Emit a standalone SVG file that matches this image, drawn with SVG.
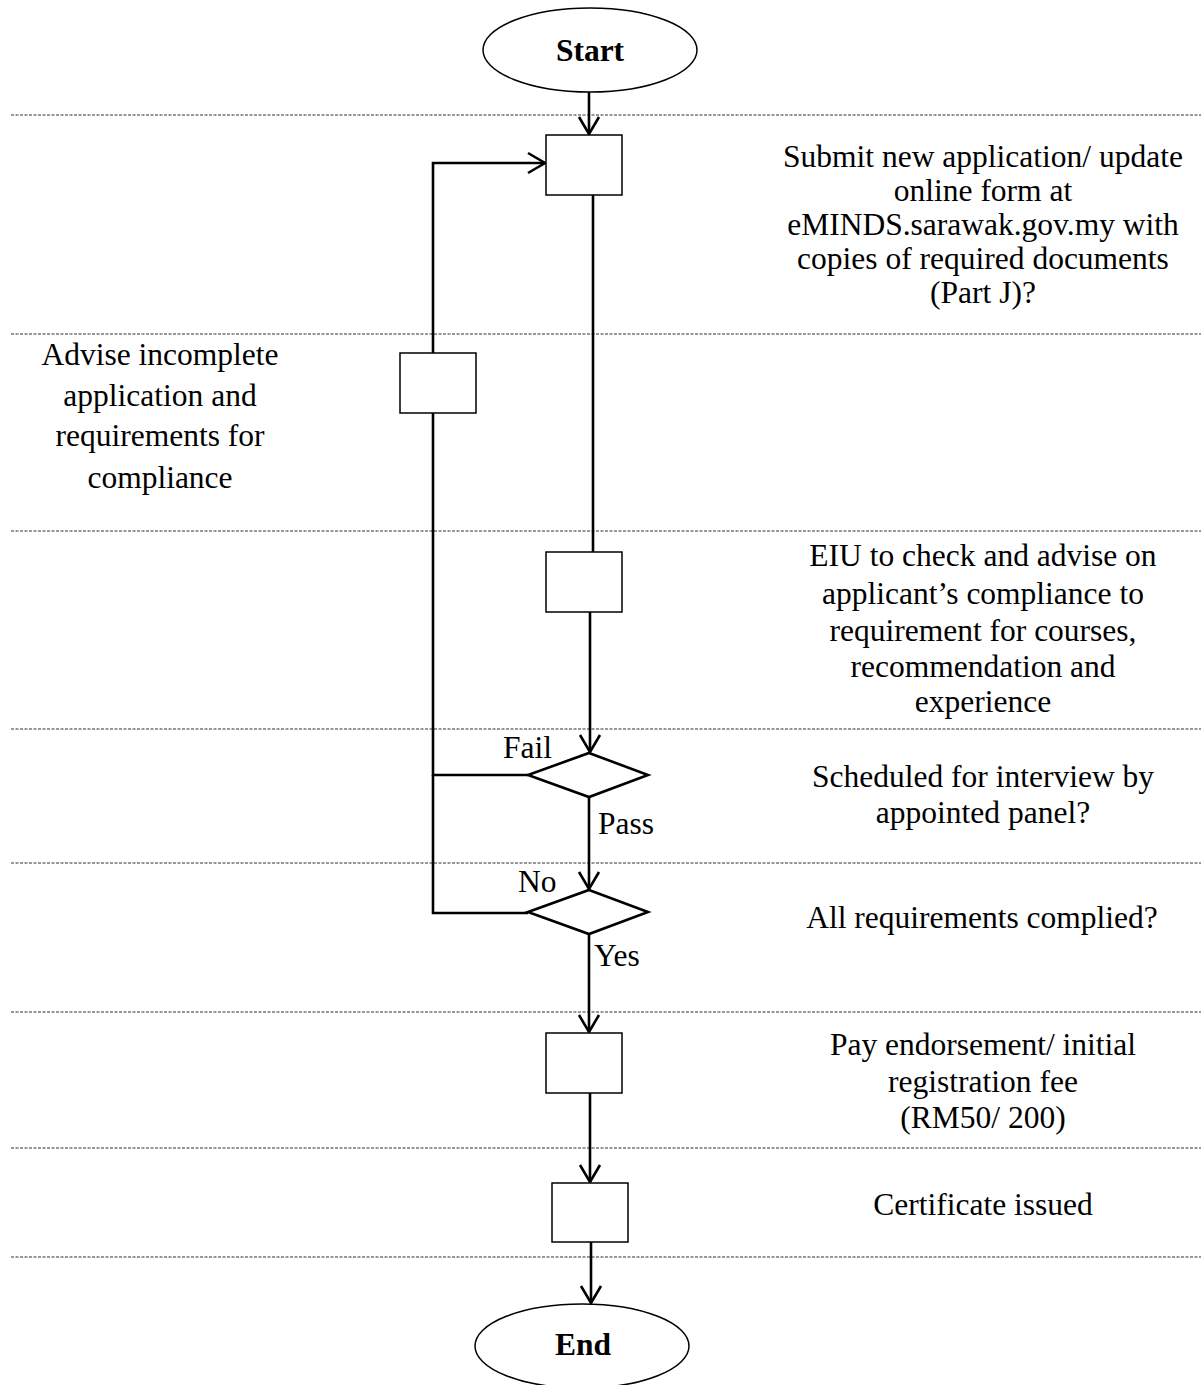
<svg xmlns="http://www.w3.org/2000/svg" width="1201" height="1385" viewBox="0 0 1201 1385">
<style>
.dash{stroke:#333;stroke-width:1.2;stroke-dasharray:3 1.5;fill:none}
.conn{stroke:#000;stroke-width:2.6;fill:none}
.box{fill:#fff;stroke:#000;stroke-width:1.5}
.dia{fill:#fff;stroke:#000;stroke-width:2.6}
.ell{fill:#fff;stroke:#000;stroke-width:1.5}
text{font-family:"Liberation Serif","Times New Roman",serif;font-size:31.5px;fill:#000}
.c{text-anchor:middle}
.b{font-weight:bold}
</style>
<defs>
<marker id="arr" viewBox="-20 -13 23 26" markerWidth="23" markerHeight="26" refX="0" refY="0" orient="auto" markerUnits="userSpaceOnUse">
<path d="M-17,-10 L0,0 L-17,10" fill="none" stroke="#000" stroke-width="2.6"/>
</marker>
</defs>
<rect width="1201" height="1385" fill="#fff"/>
<g id="lanes">
<line class="dash" x1="11" y1="115" x2="1201" y2="115"/>
<line class="dash" x1="11" y1="334" x2="1201" y2="334"/>
<line class="dash" x1="11" y1="531" x2="1201" y2="531"/>
<line class="dash" x1="11" y1="729" x2="1201" y2="729"/>
<line class="dash" x1="11" y1="863" x2="1201" y2="863"/>
<line class="dash" x1="11" y1="1012" x2="1201" y2="1012"/>
<line class="dash" x1="11" y1="1148" x2="1201" y2="1148"/>
<line class="dash" x1="11" y1="1257" x2="1201" y2="1257"/>
</g>
<g id="connectors">
<line class="conn" x1="589" y1="92" x2="589" y2="134" marker-end="url(#arr)"/>
<line class="conn" x1="593" y1="195" x2="593" y2="552"/>
<line class="conn" x1="590" y1="612" x2="590" y2="752" marker-end="url(#arr)"/>
<line class="conn" x1="589" y1="797" x2="589" y2="889" marker-end="url(#arr)"/>
<line class="conn" x1="589" y1="934" x2="589" y2="1032" marker-end="url(#arr)"/>
<line class="conn" x1="590" y1="1093" x2="590" y2="1182" marker-end="url(#arr)"/>
<line class="conn" x1="591" y1="1242" x2="591" y2="1303" marker-end="url(#arr)"/>
<polyline class="conn" points="528,775 433,775 433,163 545,163" marker-end="url(#arr)"/>
<polyline class="conn" points="528,913 433,913 433,775"/>
</g>
<g id="start">
<ellipse class="ell" cx="590" cy="50" rx="107" ry="42"/>
<text class="c b" x="590" y="61">Start</text>
</g>
<g id="submit">
<rect class="box" x="546" y="135" width="76" height="60"/>
<text class="c" x="983"><tspan x="983" y="167">Submit new application/ update</tspan><tspan x="983" y="201">online form at</tspan><tspan x="983" y="235">eMINDS.sarawak.gov.my with</tspan><tspan x="983" y="269">copies of required documents</tspan><tspan x="983" y="303">(Part J)?</tspan></text>
</g>
<g id="advise">
<rect class="box" x="400" y="353" width="76" height="60"/>
<text class="c" x="160"><tspan x="160" y="365">Advise incomplete</tspan><tspan x="160" y="406">application and</tspan><tspan x="160" y="446">requirements for</tspan><tspan x="160" y="488">compliance</tspan></text>
</g>
<g id="check">
<rect class="box" x="546" y="552" width="76" height="60"/>
<text class="c" x="983"><tspan x="983" y="566">EIU to check and advise on</tspan><tspan x="983" y="604">applicant’s compliance to</tspan><tspan x="983" y="641">requirement for courses,</tspan><tspan x="983" y="677">recommendation and</tspan><tspan x="983" y="712">experience</tspan></text>
</g>
<g id="interview">
<polygon class="dia" points="589,753 648,775 589,797 528,775"/>
<text class="c" x="983"><tspan x="983" y="787">Scheduled for interview by</tspan><tspan x="983" y="823">appointed panel?</tspan></text>
<text x="503" y="758">Fail</text>
<text x="598" y="834">Pass</text>
</g>
<g id="complied">
<polygon class="dia" points="589,890 648,912 589,934 528,912"/>
<text class="c" x="982" y="928">All requirements complied?</text>
<text x="518" y="892">No</text>
<text x="594" y="966">Yes</text>
</g>
<g id="pay">
<rect class="box" x="546" y="1033" width="76" height="60"/>
<text class="c" x="983"><tspan x="983" y="1055">Pay endorsement/ initial</tspan><tspan x="983" y="1092">registration fee</tspan><tspan x="983" y="1128">(RM50/ 200)</tspan></text>
</g>
<g id="certificate">
<rect class="box" x="552" y="1183" width="76" height="59"/>
<text class="c" x="983" y="1215">Certificate issued</text>
</g>
<g id="end">
<ellipse class="ell" cx="582" cy="1346" rx="107" ry="42"/>
<text class="c b" x="583" y="1355">End</text>
</g>
</svg>
